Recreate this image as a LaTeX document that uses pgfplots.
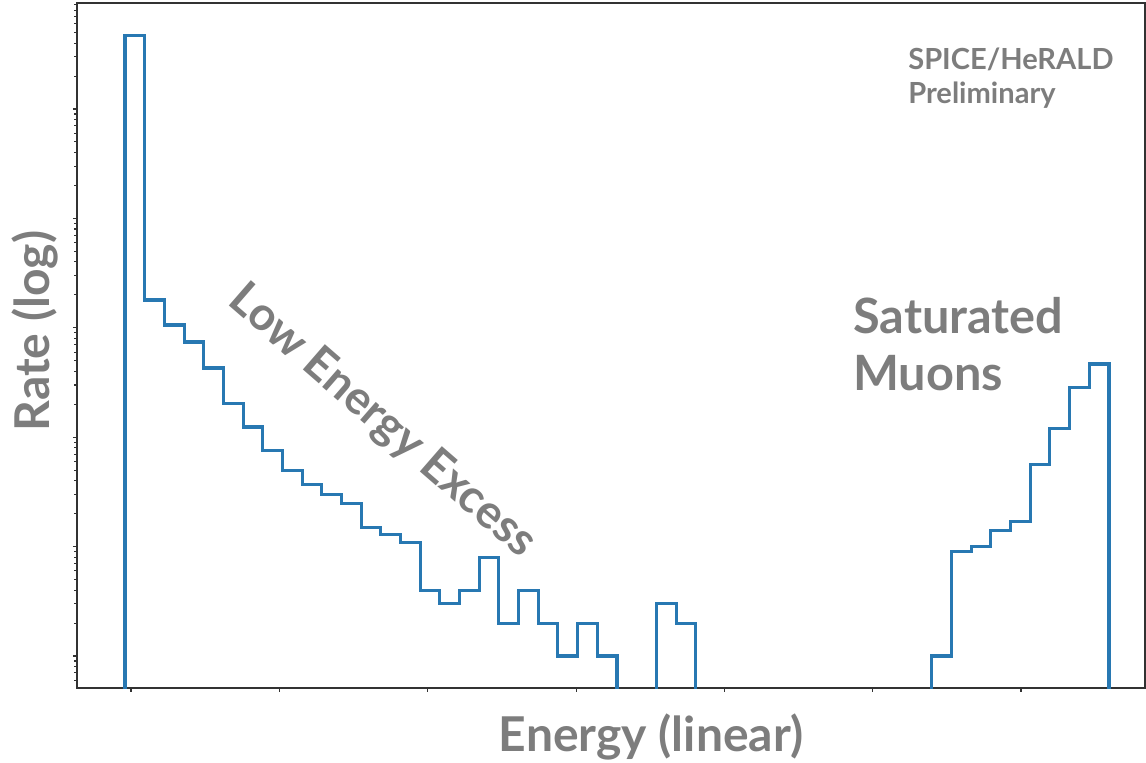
\documentclass[border=0pt]{standalone}
\usepackage{pgfplots}
\pgfplotsset{compat=1.18}
\usepackage{fontspec}
\setmainfont{Lato}
\definecolor{histblue}{RGB}{40,120,178}
\definecolor{txtgray}{RGB}{125,125,125}
\definecolor{spine}{RGB}{50,50,50}
\begin{document}
\begin{tikzpicture}
\begin{axis}[
  name=ax,
  scale only axis,
  width=801pt, height=513.75pt,
  ymode=log,
  xmin=-2.439, xmax=51.83,
  ymin=0.51, ymax=931000,
  xtick={0.305,7.84,15.38,22.92,30.45,37.99,45.53},
  xticklabels={},
  ytick={1,10,100,1000,10000,100000,1000000},
  minor ytick={0.6,0.7,0.8,0.9,2,3,4,5,6,7,8,9,20,30,40,50,60,70,80,90,
    200,300,400,500,600,700,800,900,2000,3000,4000,5000,6000,7000,8000,9000,
    20000,30000,40000,50000,60000,70000,80000,90000,
    200000,300000,400000,500000,600000,700000,800000,900000},
  yticklabels={},
  tick pos=left,
  tick align=outside,
  major tick length=3pt,
  minor tick length=2.2pt,
  every tick/.style={spine, line width=0.8pt},
  axis line style={spine, line width=1.4pt},
  clip mode=individual,
]
\addplot[const plot, histblue, line width=2.3pt] coordinates {
(0,0.01) (0,474000) (1,1796) (2,1061) (3,742) (4,429) (5,205) (6,124) (7,75)
(8,50) (9,37) (10,30) (11,25) (12,15) (13,13) (14,11) (15,4) (16,3) (17,4)
(18,8) (19,2) (20,4) (21,2) (22,1) (23,2) (24,1) (25,0.01) (26,0.01) (27,3)
(28,2) (29,0.01) (30,0.01) (31,0.01) (32,0.01) (33,0.01) (34,0.01) (35,0.01)
(36,0.01) (37,0.01) (38,0.01) (39,0.01) (40,0.01) (41,1) (42,9) (43,10)
(44,14) (45,17) (46,56) (47,121) (48,282) (49,467) (50,467) (50,0.01)
};
\node[anchor=base, inner sep=0pt, font=\fontsize{36}{42}\selectfont\bfseries, text=txtgray]
  at (axis description cs:0.5375,-0.0934) {Energy (linear)};
\node[anchor=base, inner sep=0pt, rotate=90, font=\fontsize{36}{42}\selectfont\bfseries, text=txtgray]
  at (axis description cs:-0.0253,0.521) {Rate (log)};
\node[anchor=base west, inner sep=0pt, font=\fontsize{21.8}{26}\selectfont\bfseries, text=txtgray]
  at (axis description cs:0.7781,0.9022) {SPICE/HeRALD};
\node[anchor=base west, inner sep=0pt, font=\fontsize{21.8}{26}\selectfont\bfseries, text=txtgray]
  at (axis description cs:0.7781,0.8526) {Preliminary};
\node[anchor=base west, inner sep=0pt, font=\fontsize{36.5}{42}\selectfont\bfseries, text=txtgray]
  at (axis description cs:0.7266,0.5182) {Saturated};
\node[anchor=base west, inner sep=0pt, font=\fontsize{36.5}{42}\selectfont\bfseries, text=txtgray]
  at (axis description cs:0.7266,0.435) {Muons};
\node[rotate=-41, inner sep=0pt, font=\fontsize{34.8}{40}\selectfont\bfseries, text=txtgray]
  at (axis description cs:0.2856,0.3883) {Low Energy Excess};
\end{axis}
\pgfresetboundingbox
\path ([xshift=-57.75pt,yshift=-55.5pt]ax.south west) rectangle ([xshift=0.75pt,yshift=2.25pt]ax.north east);
\end{tikzpicture}
\end{document}
